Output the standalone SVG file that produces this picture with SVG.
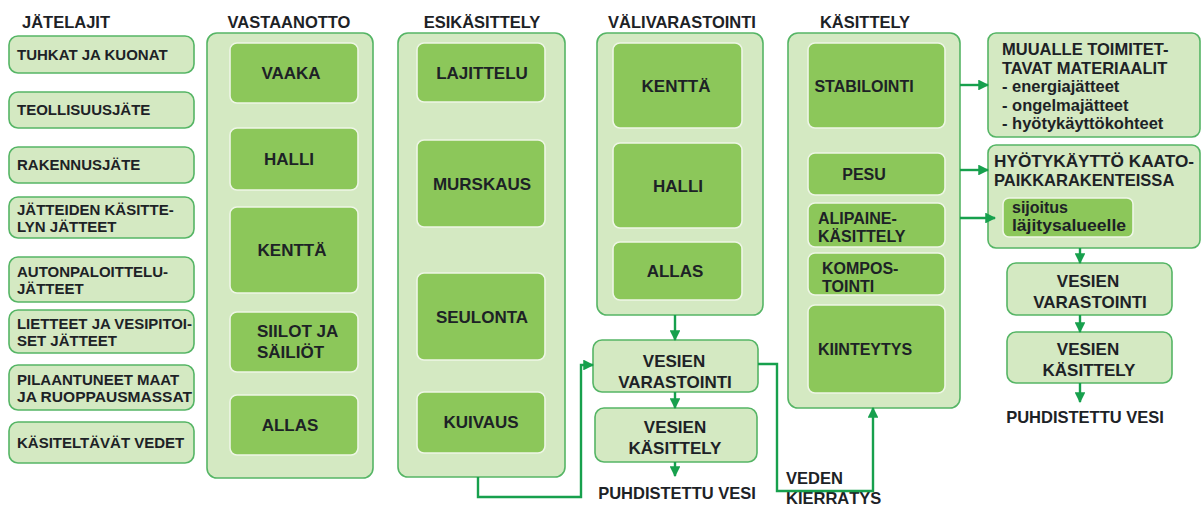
<svg xmlns="http://www.w3.org/2000/svg" width="1201" height="506" viewBox="0 0 1201 506">
<defs>
<style>
text{font-family:"Liberation Sans",Arial,sans-serif;font-weight:700;fill:#1d2226}
.h{font-size:16.5px}
.t{font-size:17px}
.k{font-size:16px}
.s{font-size:15px}
.r{font-size:16.5px}
.c{text-anchor:middle}
.box{fill:#d4e9c2;stroke:#55b565;stroke-width:1.6}
.in{fill:#8cc75a;stroke:#eef6e6;stroke-width:1.6}
.ar{fill:none;stroke:#17a04d;stroke-width:2.4}
</style>
<marker id="ah" viewBox="0 0 10 10" refX="9" refY="5" markerWidth="4.5" markerHeight="4.5" orient="auto" markerUnits="strokeWidth">
<path d="M0,0 L10,5 L0,10 Z" fill="#17a04d"/>
</marker>
</defs>
<rect width="1201" height="506" fill="#ffffff"/>

<g id="col-jatelajit">
<text class="h" x="22" y="28">JÄTELAJIT</text>
<g id="j1"><rect class="box" x="9" y="36" width="185" height="37" rx="9"/><text class="s" x="17" y="60">TUHKAT JA KUONAT</text></g>
<g id="j2"><rect class="box" x="9" y="92" width="185" height="36" rx="9"/><text class="s" x="17" y="115">TEOLLISUUSJÄTE</text></g>
<g id="j3"><rect class="box" x="9" y="147" width="185" height="36" rx="9"/><text class="s" x="17" y="170">RAKENNUSJÄTE</text></g>
<g id="j4"><rect class="box" x="9" y="197" width="185" height="41" rx="9"/><text class="s" x="17" y="215">JÄTTEIDEN KÄSITTE-</text><text class="s" x="17" y="232">LYN JÄTTEET</text></g>
<g id="j5"><rect class="box" x="9" y="257" width="185" height="45" rx="9"/><text class="s" x="17" y="277">AUTONPALOITTELU-</text><text class="s" x="17" y="294">JÄTTEET</text></g>
<g id="j6"><rect class="box" x="9" y="310" width="185" height="43" rx="9"/><text class="s" x="17" y="329" textLength="175" lengthAdjust="spacingAndGlyphs">LIETTEET JA VESIPITOI-</text><text class="s" x="17" y="346">SET JÄTTEET</text></g>
<g id="j7"><rect class="box" x="9" y="365" width="185" height="45" rx="9"/><text class="s" x="17" y="385">PILAANTUNEET MAAT</text><text class="s" x="17" y="402" textLength="175" lengthAdjust="spacingAndGlyphs">JA RUOPPAUSMASSAT</text></g>
<g id="j8"><rect class="box" x="9" y="422" width="185" height="41" rx="9"/><text class="s" x="17" y="448">KÄSITELTÄVÄT VEDET</text></g>
</g>

<g id="col-vastaanotto">
<text class="h c" x="289" y="28">VASTAANOTTO</text>
<rect class="box" x="207" y="33" width="166" height="445" rx="10"/>
<g id="v1"><rect class="in" x="230" y="43" width="128" height="60" rx="7"/><text class="t c" x="291" y="79">VAAKA</text></g>
<g id="v2"><rect class="in" x="230" y="128" width="128" height="62" rx="7"/><text class="t c" x="289" y="165">HALLI</text></g>
<g id="v3"><rect class="in" x="230" y="207" width="128" height="86" rx="7"/><text class="t c" x="292" y="256">KENTTÄ</text></g>
<g id="v4"><rect class="in" x="230" y="312" width="128" height="60" rx="7"/><text class="t" x="257" y="337">SIILOT JA</text><text class="t" x="257" y="358">SÄILIÖT</text></g>
<g id="v5"><rect class="in" x="230" y="395" width="128" height="60" rx="7"/><text class="t c" x="290" y="431">ALLAS</text></g>
</g>

<g id="col-esikasittely">
<text class="h c" x="482" y="28">ESIKÄSITTELY</text>
<rect class="box" x="398" y="33" width="167" height="444" rx="10"/>
<g id="e1"><rect class="in" x="417" y="43" width="128" height="59" rx="7"/><text class="t c" x="482" y="79">LAJITTELU</text></g>
<g id="e2"><rect class="in" x="417" y="140" width="128" height="87" rx="7"/><text class="t c" x="482" y="190">MURSKAUS</text></g>
<g id="e3"><rect class="in" x="417" y="273" width="128" height="87" rx="7"/><text class="t c" x="482" y="323">SEULONTA</text></g>
<g id="e4"><rect class="in" x="417" y="392" width="128" height="61" rx="7"/><text class="t c" x="481" y="428">KUIVAUS</text></g>
</g>

<g id="col-valivarastointi">
<text class="h c" x="682" y="28">VÄLIVARASTOINTI</text>
<rect class="box" x="597" y="33" width="166" height="282" rx="10"/>
<g id="m1"><rect class="in" x="613" y="43" width="129" height="85" rx="7"/><text class="t c" x="676" y="92">KENTTÄ</text></g>
<g id="m2"><rect class="in" x="613" y="143" width="129" height="85" rx="7"/><text class="t c" x="678" y="192">HALLI</text></g>
<g id="m3"><rect class="in" x="613" y="242" width="129" height="58" rx="7"/><text class="t c" x="675" y="277">ALLAS</text></g>
</g>

<g id="mid-vesien-varastointi"><rect class="box" x="593" y="340" width="165" height="52" rx="9"/><text class="t c" x="674" y="367">VESIEN</text><text class="t c" x="675" y="388">VARASTOINTI</text></g>
<g id="mid-vesien-kasittely"><rect class="box" x="595" y="408" width="162" height="54" rx="9"/><text class="t c" x="675" y="433">VESIEN</text><text class="t c" x="675" y="454">KÄSITTELY</text></g>
<g id="mid-puhdistettu"><text class="r c" x="677" y="499">PUHDISTETTU VESI</text></g>

<g id="col-kasittely">
<text class="h c" x="865" y="28">KÄSITTELY</text>
<rect class="box" x="788" y="33" width="172" height="375" rx="10"/>
<g id="k1"><rect class="in" x="808" y="43" width="137" height="85" rx="7"/><text class="k c" x="864" y="92">STABILOINTI</text></g>
<g id="k2"><rect class="in" x="808" y="153" width="137" height="42" rx="7"/><text class="k c" x="864" y="180">PESU</text></g>
<g id="k3"><rect class="in" x="808" y="203" width="137" height="44" rx="7"/><text class="k" x="818" y="224">ALIPAINE-</text><text class="k" x="818" y="242">KÄSITTELY</text></g>
<g id="k4"><rect class="in" x="808" y="253" width="137" height="42" rx="7"/><text class="k" x="822" y="274">KOMPOS-</text><text class="k" x="822" y="292">TOINTI</text></g>
<g id="k5"><rect class="in" x="808" y="305" width="137" height="88" rx="7"/><text class="k c" x="865" y="355">KIINTEYTYS</text></g>
</g>

<g id="r-muualle"><rect class="box" x="988" y="33" width="212" height="104" rx="8"/>
<text class="r" x="1002" y="55">MUUALLE TOIMITET-</text>
<text class="r" x="1002" y="73.5">TAVAT MATERIAALIT</text>
<text class="r" x="1002" y="92">- energiajätteet</text>
<text class="r" x="1002" y="110.5">- ongelmajätteet</text>
<text class="r" x="1002" y="129">- hyötykäyttökohteet</text>
</g>
<g id="r-hyotykaytto"><rect class="box" x="988" y="145" width="212" height="103" rx="8"/>
<text class="r" x="994" y="167" textLength="200" lengthAdjust="spacingAndGlyphs">HYÖTYKÄYTTÖ KAATO-</text>
<text class="r" x="994" y="185.5">PAIKKARAKENTEISSA</text>
<g id="r-sijoitus"><rect class="in" x="1003" y="198" width="130" height="39" rx="6"/>
<text x="1012" y="213" font-size="16">sijoitus</text>
<text x="1012" y="231" font-size="16" textLength="114" lengthAdjust="spacingAndGlyphs">läjitysalueelle</text></g>
</g>
<g id="r-vesien-varastointi"><rect class="box" x="1007" y="263" width="165" height="52" rx="9"/><text class="t c" x="1088" y="287">VESIEN</text><text class="t c" x="1090" y="308">VARASTOINTI</text></g>
<g id="r-vesien-kasittely"><rect class="box" x="1007" y="332" width="165" height="51" rx="9"/><text class="t c" x="1088" y="355">VESIEN</text><text class="t c" x="1089" y="376">KÄSITTELY</text></g>
<g id="r-puhdistettu"><text class="r c" x="1085" y="423">PUHDISTETTU VESI</text></g>

<g id="veden-kierratys"><text class="r" x="786" y="484">VEDEN</text><text class="r" x="786" y="504">KIERRÄTYS</text></g>

<g id="connectors">
<path class="ar" marker-end="url(#ah)" d="M478,477 V497 H581 V365 H593"/>
<path class="ar" marker-end="url(#ah)" d="M675,315 V340"/>
<path class="ar" marker-end="url(#ah)" d="M675,392 V408"/>
<path class="ar" marker-end="url(#ah)" d="M675,462 V476"/>
<path class="ar" marker-end="url(#ah)" d="M758,364 H777 V491 H873 V408"/>
<path class="ar" marker-end="url(#ah)" d="M960,85 H988"/>
<path class="ar" marker-end="url(#ah)" d="M960,170 H988"/>
<path class="ar" marker-end="url(#ah)" d="M960,218 H995"/>
<path class="ar" marker-end="url(#ah)" d="M1080,248 V263"/>
<path class="ar" marker-end="url(#ah)" d="M1080,315 V332"/>
<path class="ar" marker-end="url(#ah)" d="M1080,383 V402"/>
</g>
</svg>
